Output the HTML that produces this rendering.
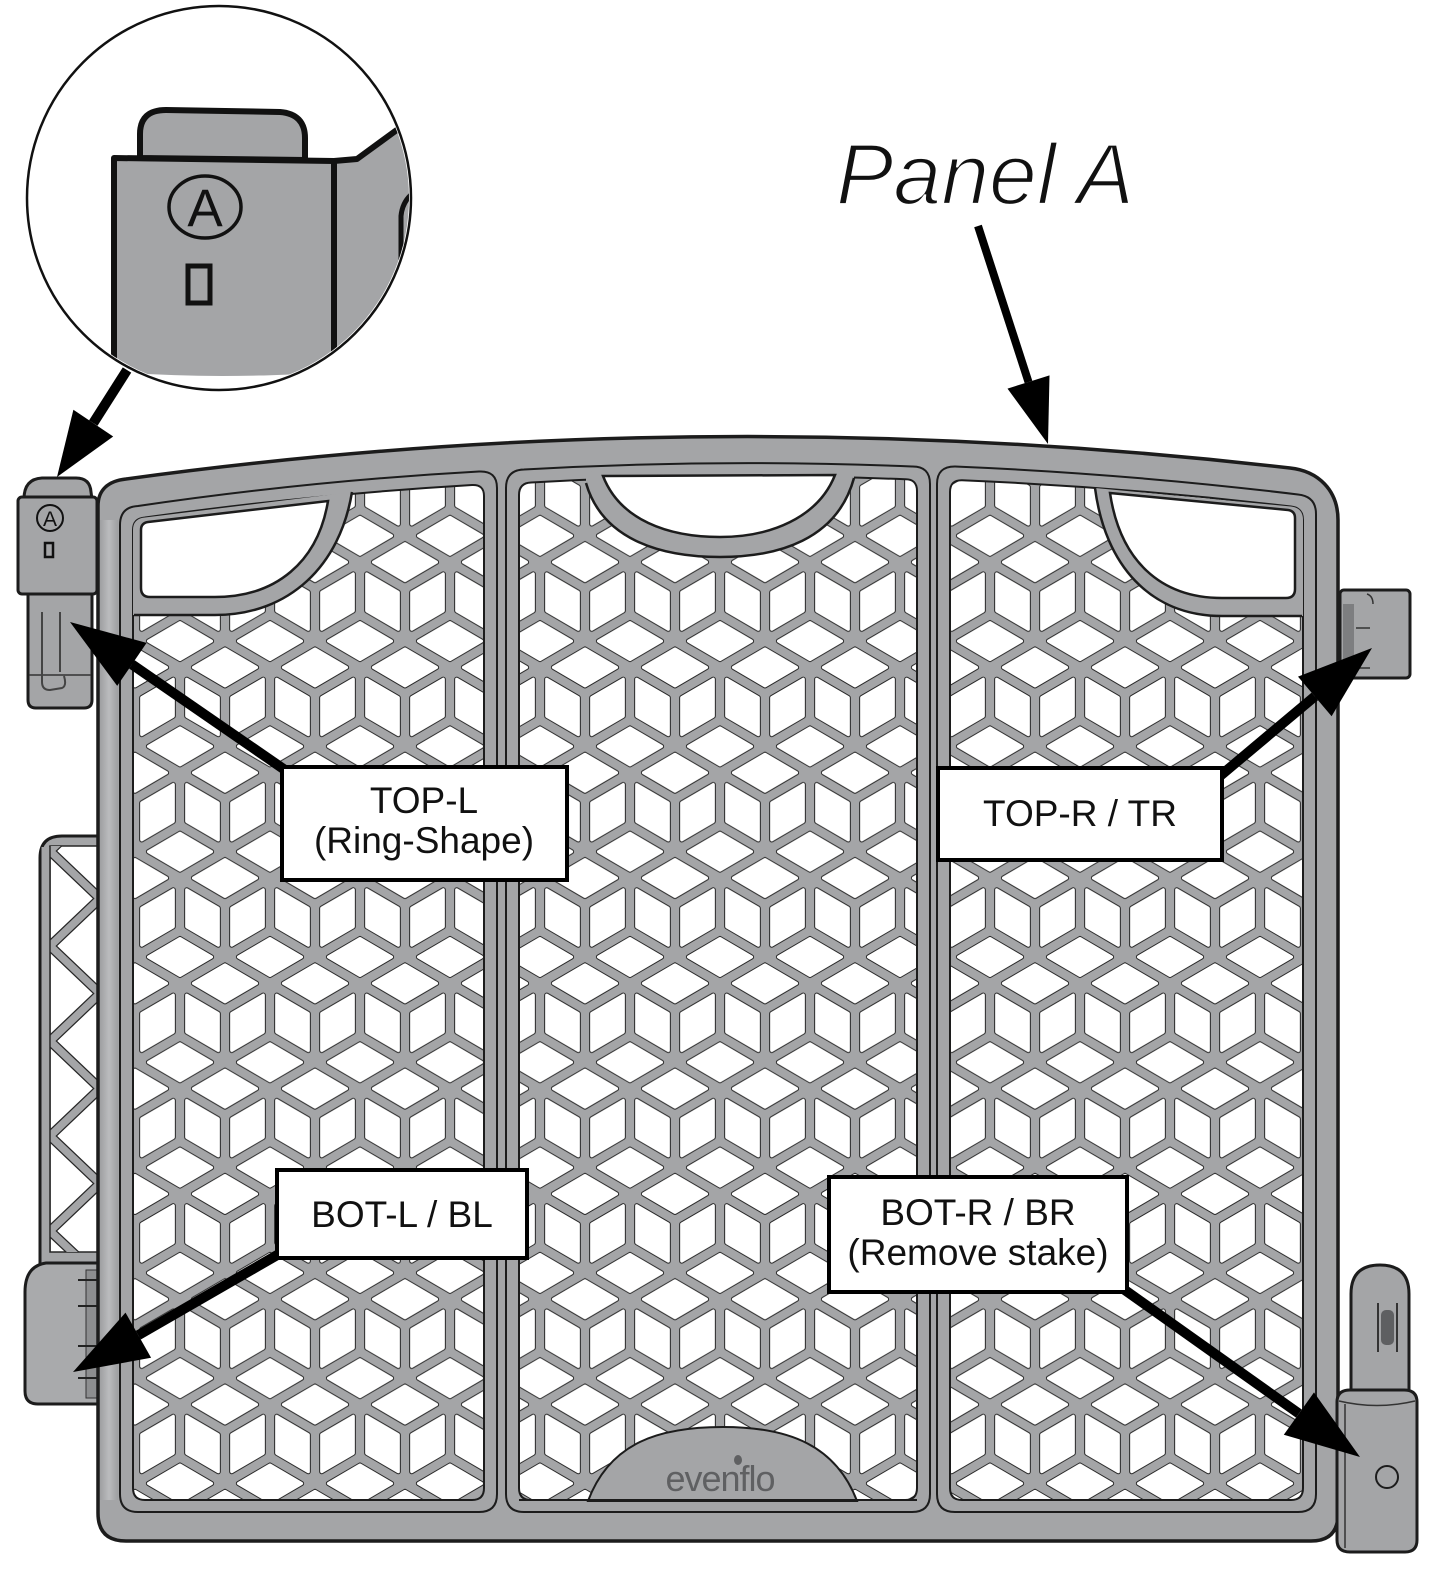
<!DOCTYPE html>
<html>
<head>
<meta charset="utf-8">
<style>
html,body{margin:0;padding:0;background:#fff;}
svg{display:block;}
text{font-family:"Liberation Sans",Arial,sans-serif;}
</style>
</head>
<body>
<svg width="1445" height="1581" viewBox="0 0 1445 1581" xmlns="http://www.w3.org/2000/svg">
<defs>
  <g id="H">
    <polygon points="-31.5,0 0,-18.4 31.5,0 0,18.4" fill="#262626" stroke="#262626" stroke-width="5.2" stroke-linejoin="round"/>
    <polygon points="-31.5,0 0,-18.4 31.5,0 0,18.4" fill="#fff" stroke="#fff" stroke-width="3.2" stroke-linejoin="round"/>
  </g>
  <g id="L">
    <polygon points="-15.75,-27.65 15.75,-9.24 15.75,27.65 -15.75,9.24" fill="#262626" stroke="#262626" stroke-width="5.2" stroke-linejoin="round"/>
    <polygon points="-15.75,-27.65 15.75,-9.24 15.75,27.65 -15.75,9.24" fill="#fff" stroke="#fff" stroke-width="3.2" stroke-linejoin="round"/>
  </g>
  <g id="R">
    <polygon points="-15.75,-9.24 15.75,-27.65 15.75,9.24 -15.75,27.65" fill="#262626" stroke="#262626" stroke-width="5.2" stroke-linejoin="round"/>
    <polygon points="-15.75,-9.24 15.75,-27.65 15.75,9.24 -15.75,27.65" fill="#fff" stroke="#fff" stroke-width="3.2" stroke-linejoin="round"/>
  </g>
  <pattern id="mesh" patternUnits="userSpaceOnUse" x="630" y="957" width="90" height="105.3">
    <rect width="90" height="105.3" fill="#a4a5a7"/>
    <use href="#H" x="0" y="0"/>
    <use href="#H" x="90" y="0"/>
    <use href="#H" x="0" y="105.3"/>
    <use href="#H" x="90" y="105.3"/>
    <use href="#H" x="45" y="26.33"/>
    <use href="#L" x="22.5" y="65.8"/>
    <use href="#R" x="67.5" y="65.8"/>
  </pattern>
  <clipPath id="circ"><circle cx="219" cy="198" r="190"/></clipPath>
  <clipPath id="ext"><rect x="50" y="846" width="50" height="406"/></clipPath>
  <linearGradient id="barg" x1="0" x2="1" y1="0" y2="0">
    <stop offset="0" stop-color="#9c9d9f"/>
    <stop offset="0.5" stop-color="#c4c5c7"/>
    <stop offset="1" stop-color="#9c9d9f"/>
  </linearGradient>
</defs>

<!-- ===== Callout circle ===== -->
<circle cx="219" cy="198" r="192" fill="#fff" stroke="#111" stroke-width="2.5"/>
<g clip-path="url(#circ)">
  <path d="M334,164 L357,160 L420,112 L440,100 L440,420 L334,420 Z" fill="#a4a5a7"/>
  <path d="M114,158 L334,161 L334,372 Q220,380 114,372 Z" fill="#a4a5a7"/>
  <path d="M140,158 L140,134 Q140,110 166,110 L280,112 Q305,114 305,138 L305,160 Z" fill="#a4a5a7" stroke="#111" stroke-width="6" stroke-linejoin="round"/>
  <path d="M114,380 L114,158 L334,161 L357,159 L420,113" fill="none" stroke="#111" stroke-width="6" stroke-linejoin="round"/>
  <line x1="334" y1="160" x2="334" y2="385" stroke="#111" stroke-width="6"/>
  <path d="M401,290 L401,216 Q403,196 422,188" fill="none" stroke="#111" stroke-width="5"/>
  <ellipse cx="205" cy="207" rx="36" ry="31" fill="none" stroke="#111" stroke-width="3.5"/>
  <text x="205" y="226" font-size="53" text-anchor="middle" fill="#111">A</text>
  <rect x="188" y="266" width="22" height="37" fill="none" stroke="#111" stroke-width="5"/>
</g>

<!-- ===== Panel A ===== -->
<text x="836" y="204" font-size="86" font-style="italic" fill="#111" stroke="#fff" stroke-width="2.2">Panel A</text>

<!-- ===== Left extension piece & bottom-left hinge (behind frame) ===== -->
<path d="M40,1270 L40,858 Q40,836 62,836 L104,836 L104,1270 Z" fill="#a4a5a7" stroke="#1c1c1c" stroke-width="3"/>
<rect x="50" y="846" width="50" height="406" fill="#fff" stroke="#262626" stroke-width="1.5"/>
<g clip-path="url(#ext)">
  <polyline points="100,803.5 50,851 100,898.5 50,946 100,993.5 50,1041 100,1088.5 50,1136 100,1183.5 50,1231 100,1278" fill="none" stroke="#262626" stroke-width="10" stroke-linejoin="round"/>
  <polyline points="100,803.5 50,851 100,898.5 50,946 100,993.5 50,1041 100,1088.5 50,1136 100,1183.5 50,1231 100,1278" fill="none" stroke="#a4a5a7" stroke-width="7.5" stroke-linejoin="round"/>
</g>
<rect x="41.5" y="847" width="8" height="405" fill="#a4a5a7"/>
<line x1="50" y1="846" x2="50" y2="1252" stroke="#262626" stroke-width="1.5"/>
<path d="M25,1292 Q25,1266 46,1263 L104,1263 L104,1404 L38,1404 Q25,1404 25,1391 Z" fill="#a9aaac" stroke="#1c1c1c" stroke-width="3"/>
<rect x="86" y="1270" width="11" height="128" fill="#8d8e90" stroke="#333" stroke-width="1"/>
<g stroke="#222" stroke-width="2">
  <line x1="78" y1="1280" x2="100" y2="1280"/>
  <line x1="78" y1="1306" x2="100" y2="1306"/>
  <line x1="78" y1="1346" x2="100" y2="1346"/>
  <line x1="78" y1="1378" x2="100" y2="1378"/>
</g>

<!-- ===== Main frame ===== -->
<path d="M98,506 C98,490 108,481 126,479 Q700,400 1290,468 C1318,471 1338,490 1338,520 L1338,1514 Q1338,1541 1311,1541 L126,1541 Q98,1541 98,1513 Z" fill="#a4a5a7" stroke="#1c1c1c" stroke-width="3.5"/>
<rect x="100" y="520" width="18" height="980" fill="url(#barg)" opacity="0.7"/>

<!-- rims -->
<path d="M120,525 Q120,507 138,506 Q308,481 479,471.5 Q497,470.5 497,488 L497,1494 Q497,1512 479,1512 L138,1512 Q120,1512 120,1494 Z" fill="#a4a5a7" stroke="#1c1c1c" stroke-width="2"/>
<path d="M506,488 Q506,470 524,469.5 Q718,458.4 912,466.5 Q930,466.1 930,484 L930,1494 Q930,1512 912,1512 L524,1512 Q506,1512 506,1494 Z" fill="#a4a5a7" stroke="#1c1c1c" stroke-width="2"/>
<path d="M937,484 Q937,466.4 955,466.5 Q1126.5,473.65 1298,494.5 Q1316,496.3 1316,514 L1316,1494 Q1316,1512 1298,1512 L955,1512 Q937,1512 937,1494 Z" fill="#a4a5a7" stroke="#1c1c1c" stroke-width="2"/>

<!-- mesh areas -->
<path d="M133,530 Q133,518.5 145,517.5 Q308.5,494.75 472,485 Q484,484.4 484,496 L484,1488 Q484,1500 472,1500 L145,1500 Q133,1500 133,1488 Z" fill="url(#mesh)" stroke="#1c1c1c" stroke-width="2"/>
<path d="M519,495 Q519,483 531,482.5 Q718,471.55 905,479.3 Q917,479 917,491 L917,1488 Q917,1500 905,1500 L531,1500 Q519,1500 519,1488 Z" fill="url(#mesh)" stroke="#1c1c1c" stroke-width="2"/>
<path d="M950,492 Q950,480 962,480.2 Q1126.5,487.2 1291,506.5 Q1303,507.8 1303,520 L1303,1488 Q1303,1500 1291,1500 L962,1500 Q950,1500 950,1488 Z" fill="url(#mesh)" stroke="#1c1c1c" stroke-width="2"/>

<!-- left handle -->
<path d="M133,530 Q133,518.5 145,517.5 L352,492 C340,565 290,615 215,615 L133,615 Z" fill="#a4a5a7"/>
<path d="M352,492 C340,565 290,615 215,615 L134,615" fill="none" stroke="#1c1c1c" stroke-width="2.5"/>
<path d="M148,522 L328,501 C318,562 276,597 215,597 L150,597 Q141,597 141,588 L141,530 Q141,523 148,522 Z" fill="#fff" stroke="#1c1c1c" stroke-width="2.5"/>

<!-- middle handle -->
<path d="M586,483 C603,542 665,557 720,557 C778,557 837,540 854,478 L854,471 L586,472 Z" fill="#a4a5a7"/>
<path d="M586,483 C603,542 665,557 720,557 C778,557 837,540 854,478" fill="none" stroke="#1c1c1c" stroke-width="2.5"/>
<path d="M603,476 L835,475 C818,518 770,537 720,537 C668,537 620,520 603,476 Z" fill="#fff" stroke="#1c1c1c" stroke-width="2.5"/>

<!-- right handle -->
<path d="M1095,488 L1291,506.5 Q1303,507.8 1303,520 L1303,616 L1222,616 C1150,616 1105,565 1095,488 Z" fill="#a4a5a7"/>
<path d="M1095,488 C1105,565 1150,616 1222,616 L1302,616" fill="none" stroke="#1c1c1c" stroke-width="2.5"/>
<path d="M1110,493 L1288,510 Q1295,511 1295,518 L1295,589 Q1295,598 1286,598 L1222,598 C1160,598 1120,560 1110,493 Z" fill="#fff" stroke="#1c1c1c" stroke-width="2.5"/>

<!-- evenflo dome -->
<path d="M588,1501 C610,1442 660,1427 723,1427 C790,1427 836,1446 857,1501 Z" fill="#a4a5a7" stroke="#1c1c1c" stroke-width="2"/>
<text x="720" y="1491" font-size="36" fill="#5f6062" text-anchor="middle" letter-spacing="-1">evenflo</text>
<ellipse cx="738" cy="1460" rx="4" ry="5" fill="#5f6062"/>
<line x1="519" y1="1500" x2="917" y2="1500" stroke="#1c1c1c" stroke-width="2"/>

<!-- ===== Left top hinge ===== -->
<path d="M24,499 Q24,479 42,478 L76,478 Q90,478 91,492 L92,499 Z" fill="#a4a5a7" stroke="#1c1c1c" stroke-width="3"/>
<path d="M28,594 L28,700 Q28,708 36,708 L84,708 Q92,708 92,700 L92,594 Z" fill="#a4a5a7" stroke="#1c1c1c" stroke-width="3"/>
<rect x="18" y="497" width="79" height="97" rx="4" fill="#a4a5a7" stroke="#1c1c1c" stroke-width="3"/>
<line x1="29" y1="675" x2="91" y2="675" stroke="#333" stroke-width="1.5"/>
<path d="M42,612 L42,682 Q42,690 50,690 L62,688 Q67,686 64,676 M60,612 L60,672" fill="none" stroke="#444" stroke-width="2"/>
<circle cx="50" cy="518" r="13" fill="none" stroke="#111" stroke-width="2"/>
<text x="50" y="526" font-size="21" text-anchor="middle" fill="#111">A</text>
<rect x="45" y="543" width="8" height="14" fill="none" stroke="#111" stroke-width="2.5"/>

<!-- ===== Right top bracket ===== -->
<rect x="1340" y="590" width="70" height="88" rx="4" fill="#a4a5a7" stroke="#1c1c1c" stroke-width="3"/>
<rect x="1343" y="604" width="11" height="62" fill="#7d7e80"/>
<g stroke="#333" stroke-width="1.5" fill="none">
  <line x1="1356" y1="628" x2="1370" y2="628"/>
  <line x1="1356" y1="668" x2="1370" y2="668"/>
  <path d="M1367,594 Q1373,596 1373,604"/>
</g>

<!-- ===== Right bottom hinge ===== -->
<path d="M1351,1400 L1351,1294 Q1351,1265 1380,1265 Q1409,1265 1409,1294 L1409,1400 Z" fill="#a4a5a7" stroke="#1c1c1c" stroke-width="3"/>
<line x1="1378" y1="1303" x2="1378" y2="1352" stroke="#333" stroke-width="2"/>
<line x1="1397" y1="1303" x2="1397" y2="1352" stroke="#333" stroke-width="2"/>
<rect x="1381" y="1310" width="13" height="35" rx="5" fill="#5e5f61"/>
<path d="M1337,1402 Q1337,1390 1350,1390 L1404,1390 Q1417,1390 1417,1402 L1417,1540 Q1417,1552 1405,1552 L1350,1552 Q1337,1552 1337,1540 Z" fill="#a4a5a7" stroke="#1c1c1c" stroke-width="3"/>
<path d="M1339,1401 Q1377,1410 1415,1401" fill="none" stroke="#333" stroke-width="1.5"/>
<line x1="1345" y1="1404" x2="1345" y2="1548" stroke="#333" stroke-width="1.5"/>
<circle cx="1387" cy="1477" r="11" fill="none" stroke="#1c1c1c" stroke-width="2"/>

<!-- ===== Arrows ===== -->
<g stroke="#000" stroke-width="10" stroke-linecap="butt">
  <line x1="127" y1="370" x2="93.3" y2="423.1"/>
  <line x1="978" y1="226" x2="1028.5" y2="382" stroke-width="8"/>
  <line x1="285" y1="770" x2="131.9" y2="664.4"/>
  <line x1="1220" y1="776" x2="1314.8" y2="696.4"/>
  <line x1="279" y1="1254" x2="138.3" y2="1335.2"/>
  <line x1="1122" y1="1288" x2="1298.9" y2="1413.6"/>
</g>
<g fill="#000">
  <polygon points="57,477 113.2,436.5 73.4,409.7"/>
  <polygon points="1048,444 1049.5,375.4 1007.5,388.6"/>
  <polygon points="70,622 146.6,642.9 117.2,685.9"/>
  <polygon points="1372,648 1331.6,716.2 1298,676.6"/>
  <polygon points="73,1372 151.1,1357.8 125.5,1312.6"/>
  <polygon points="1360,1457 1283.8,1434.8 1314,1392.4"/>
</g>

<!-- ===== Labels ===== -->
<g fill="#fff" stroke="#000" stroke-width="4">
  <rect x="282" y="767" width="285" height="113"/>
  <rect x="938" y="768" width="284" height="92"/>
  <rect x="277" y="1170" width="250" height="88"/>
  <rect x="829" y="1177" width="298" height="115"/>
</g>
<g font-size="37" fill="#111" text-anchor="middle">
  <text x="424" y="813">TOP-L</text>
  <text x="424" y="853">(Ring-Shape)</text>
  <text x="1080" y="826">TOP-R / TR</text>
  <text x="402" y="1227">BOT-L / BL</text>
  <text x="978" y="1225">BOT-R / BR</text>
  <text x="978" y="1265">(Remove stake)</text>
</g>
</svg>
</body>
</html>
